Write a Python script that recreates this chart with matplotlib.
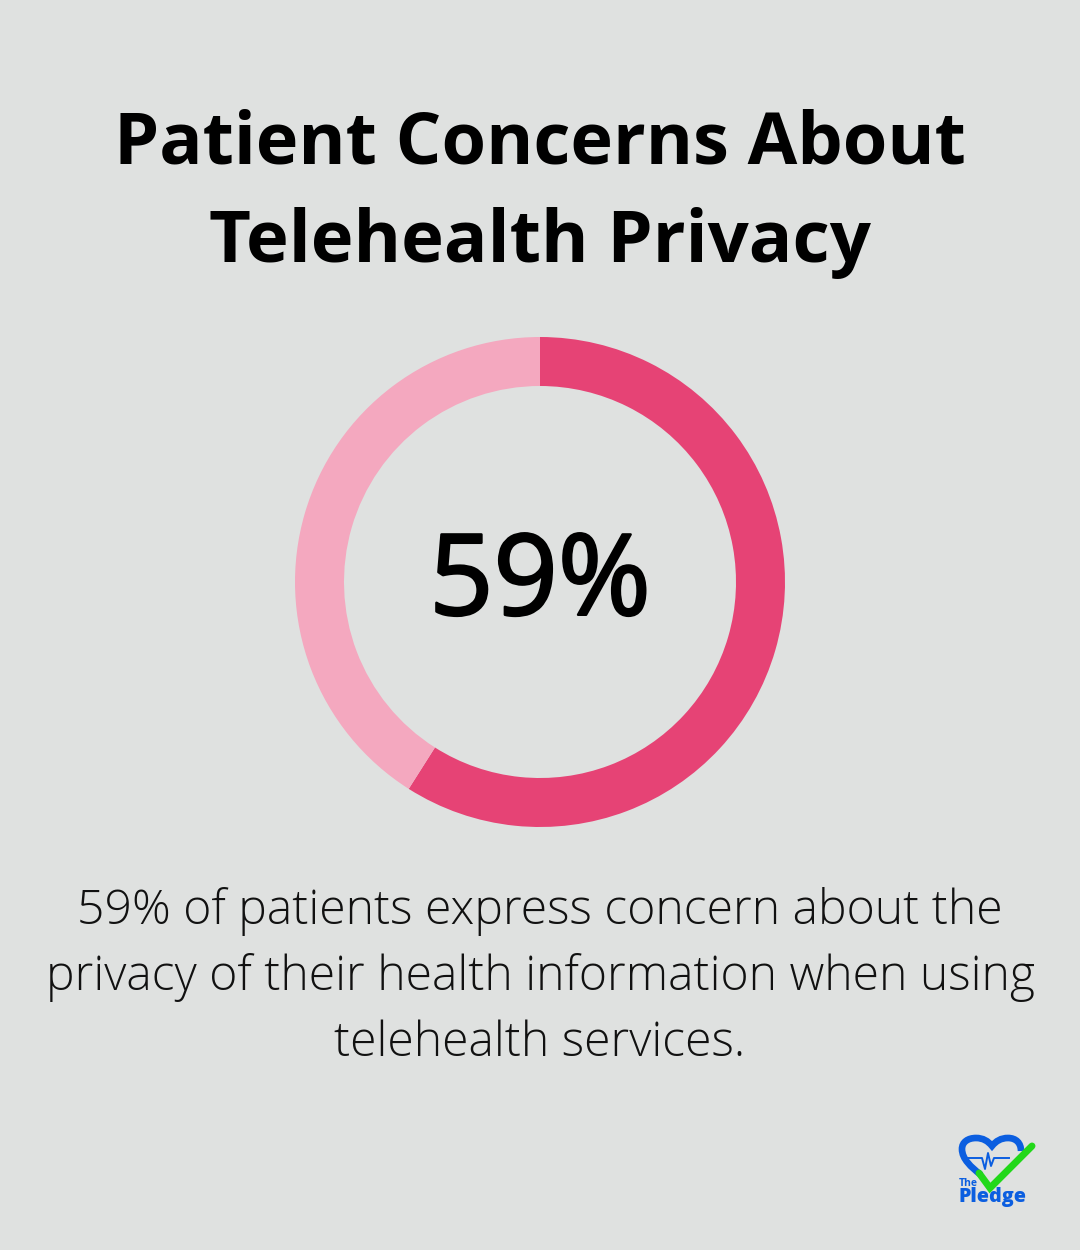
import matplotlib
matplotlib.use("Agg")
import matplotlib.pyplot as plt
import matplotlib.patheffects as pe
from matplotlib.patches import PathPatch
from matplotlib.path import Path

# data
share = [59, 41]
share_colors = ['#E64375', '#F4A8BF']
title_lines = ['Patient Concerns About', 'Telehealth Privacy']
center_label = '59%'
body_lines = ['59% of patients express concern about the',
              'privacy of their health information when using',
              'telehealth services.']

bg = '#DFE1E0'
W, H = 1080, 1250

fig = plt.figure(figsize=(W / 100, H / 100), dpi=100, facecolor=bg)

# donut, square axes centred on 540,582 px
R = 245
ax = fig.add_axes([(540 - R) / W, 1 - (582 + R) / H, 2 * R / W, 2 * R / H])
ax.pie(share, colors=share_colors, startangle=90, counterclock=False, radius=1,
       wedgeprops={'width': 49 / R, 'linewidth': 0})
ax.set_xlim(-1, 1)
ax.set_ylim(-1, 1)
ax.set_aspect('equal')
ax.axis('off')

# page level axes in pixels for text and logo
pg = fig.add_axes([0, 0, 1, 1], zorder=5)
pg.set_xlim(0, W)
pg.set_ylim(H, 0)
pg.axis('off')
pg.patch.set_alpha(0)

# second line runs a bit wider in the reference
for txt, y, fs in zip(title_lines, [144, 243], [51.8, 52.1]):
    pg.text(540, y, txt, ha='center', va='center', family='Open Sans',
            fontweight='bold', fontsize=fs, color='black')

# no medium weight installed, thicken the regular one
pg.text(540, 585, center_label, ha='center', va='center', family='Open Sans',
        fontsize=81, color='black',
        path_effects=[pe.withStroke(linewidth=1.8, foreground='black')])

for txt, y in zip(body_lines, [911, 977, 1044]):
    pg.text(540, y, txt, ha='center', va='center', family='Open Sans',
            fontweight='light', fontsize=34.65, color='#111111')

# logo
blue = '#0B5EE0'
heart = Path([(981, 1175), (971, 1167), (962, 1159), (962, 1149), (962, 1142), (968, 1138), (976, 1138),
              (983, 1138), (988, 1141), (992, 1146), (996, 1141), (1001, 1138), (1008, 1138),
              (1016, 1138), (1021, 1143), (1021, 1151)],
             [Path.MOVETO] + [Path.CURVE4] * 15)
pg.add_patch(PathPatch(heart, fc='none', ec=blue, lw=4.8, capstyle='butt'))
pg.plot([967, 982, 985, 988, 991, 994, 997, 1009], [1158, 1158, 1169, 1153, 1166, 1158, 1158, 1158],
        color=blue, lw=1.4)
pg.plot([979, 990, 1032], [1173, 1188, 1146], color='#22D81A', lw=5, solid_capstyle='round',
        solid_joinstyle='miter')
pg.text(959, 1184, 'The', ha='left', va='center', family='Open Sans', fontweight='bold',
        fontsize=7.5, color=blue)
pg.text(958, 1197, 'Pledge', ha='left', va='center', family='Open Sans', fontweight='extra bold',
        fontsize=14.2, color=blue)

fig.savefig('out.png', dpi=100, facecolor=bg)
